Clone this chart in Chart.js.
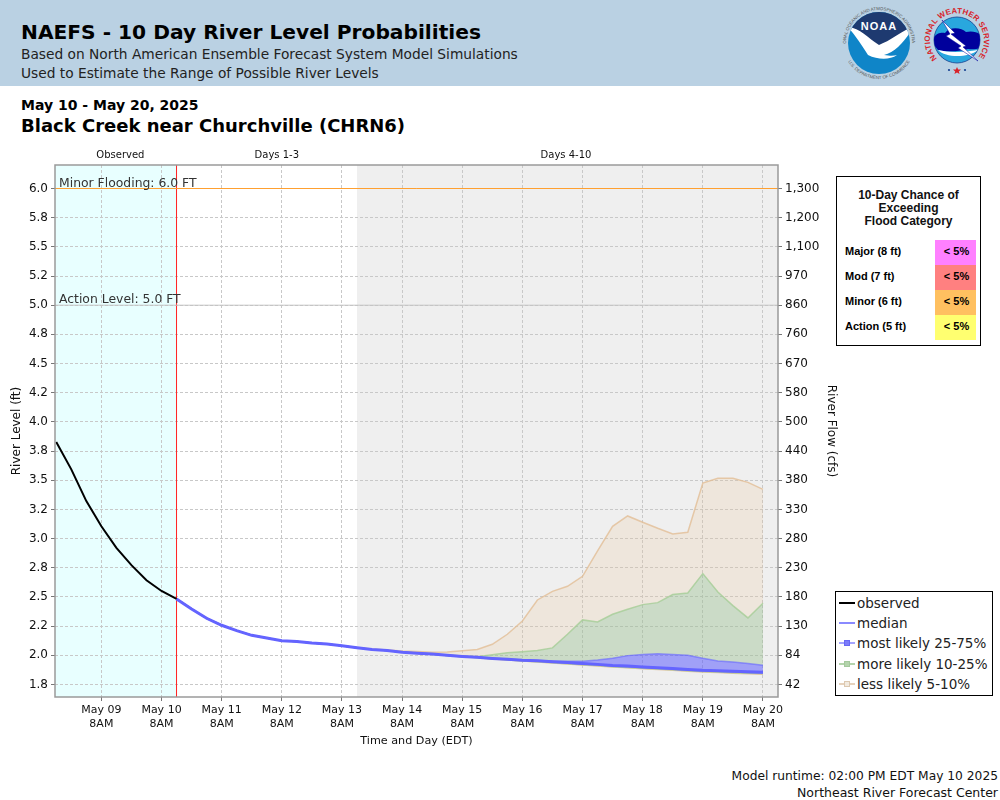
<!DOCTYPE html>
<html>
<head>
<meta charset="utf-8">
<title>NAEFS - 10 Day River Level Probabilities</title>
<script src="https://cdn.jsdelivr.net/npm/chart.js@4"></script>
<style>
  body { margin: 0; background: #fff; font-family: "DejaVu Sans", sans-serif; color: #000; overflow: hidden; }
  #page { position: relative; width: 1000px; height: 800px; }
  #banner { position: absolute; left: 0; top: 0; width: 1000px; height: 86px; background: #bad1e3; }
  .txt { position: absolute; white-space: nowrap; }
  #riverChart { position: absolute; left: 0; top: 0; }
  #logos { position: absolute; left: 835px; top: 0; }
  #floodBox { position: absolute; left: 836px; top: 176px; width: 143px; height: 168px; border: 1.5px solid #000; background: #fff; font-family: "Liberation Sans", sans-serif; font-weight: bold; }
  #floodTitle { position: absolute; left: 0; top: 12px; width: 143px; text-align: center; font-size: 12px; line-height: 13px; color: #111; }
  .floodLabel { position: absolute; left: 8px; font-size: 11px; line-height: 23px; }
  .floodCell { position: absolute; left: 98px; width: 39px; height: 25px; padding-left: 2px; font-size: 11px; line-height: 23px; text-align: center; }
  #legendBox { position: absolute; left: 835px; top: 591px; width: 156px; height: 103px; border: 1.5px solid #000; background: #fff; font-size: 13.5px; }
  .legendRow { position: absolute; left: 21px; line-height: 20px; white-space: nowrap; color: #222; }
  .legendLine { position: absolute; left: 3px; width: 16px; height: 2px; }
  .legendMark { position: absolute; left: 8px; width: 4px; height: 4px; border: 1px solid; }
</style>
</head>
<body>
<div id="page">
  <div id="banner"></div>
  <div class="txt" style="left:21px;top:20px;font-size:20.2px;font-weight:bold;">NAEFS - 10 Day River Level Probabilities</div>
  <div class="txt" style="left:21px;top:46px;font-size:13.75px;color:#222;">Based on North American Ensemble Forecast System Model Simulations</div>
  <div class="txt" style="left:21px;top:65px;font-size:13.75px;color:#222;">Used to Estimate the Range of Possible River Levels</div>
  <div class="txt" style="left:21px;top:97px;font-size:14px;font-weight:bold;">May 10 - May 20, 2025</div>
  <div class="txt" style="left:21px;top:115px;font-size:18px;font-weight:bold;">Black Creek near Churchville (CHRN6)</div>
  <div class="txt" style="right:2px;top:769px;font-size:12.25px;color:#111;">Model runtime: 02:00 PM EDT May 10 2025</div>
  <div class="txt" style="right:2px;top:785px;font-size:12.5px;color:#111;">Northeast River Forecast Center</div>

  <svg id="logos" width="165" height="86" viewBox="835 0 165 86">
    <defs>
      <path id="noaaRing" d="M 846 43 A 33 33 0 1 1 912 43"/>
      <path id="noaaRingLow" d="M 843 43 A 36 36 0 0 0 915 43"/>
      <path id="nwsRing" d="M 937 58.5 A 27 27 0 1 1 977 58.5"/>
      <clipPath id="noaaClip"><circle cx="879" cy="43" r="31"/></clipPath>
      <clipPath id="nwsClip"><circle cx="957" cy="40" r="23"/></clipPath>
    </defs>
    <circle cx="879" cy="43" r="31" fill="#0f85c8"/>
    <g clip-path="url(#noaaClip)">
      <path d="M 845 8 H 913 V 28 C 900 34 892 42 878 47 C 866 40 858 30 848 27 Z" fill="#1e3a70"/>
      <path d="M 848 27 C 860 28 868 38 879 45 C 892 40 900 32 914 26 C 906 40 896 52 884 55 C 890 56 894 56 897 55 C 890 60 878 60 868 55 C 862 46 856 36 848 27 Z" fill="#fff"/>
    </g>
    <text x="879" y="30" text-anchor="middle" font-family="Liberation Sans" font-weight="bold" font-size="11" fill="#fff" letter-spacing="1">NOAA</text>
    <text font-family="Liberation Sans" font-size="4.4" fill="#555"><textPath href="#noaaRing" startOffset="50%" text-anchor="middle">NATIONAL OCEANIC AND ATMOSPHERIC ADMINISTRATION</textPath></text>
    <text font-family="Liberation Sans" font-size="4.4" fill="#555"><textPath href="#noaaRingLow" startOffset="50%" text-anchor="middle">U.S. DEPARTMENT OF COMMERCE</textPath></text>

    <circle cx="957" cy="40" r="23" fill="#29a7de" stroke="#16408f" stroke-width="0.8"/>
    <g clip-path="url(#nwsClip)">
      <path d="M 933 44 C 932 34 940 32 945 33 C 950 26 962 28 966 32 C 975 30 984 34 984 42 C 984 48 976 50 968 49 C 958 52 944 52 938 50 Z" fill="#00009c"/>
      <path d="M 938 50 C 946 58 968 58 978 50 C 966 52 950 53 938 50 Z" fill="#fff"/>
    </g>
    <path d="M 942 20 L 955 33 L 951 34 L 966 46 L 963 47 L 978 61 L 958 48 L 961 46 L 946 36 L 950 34 Z" fill="#fff" stroke="#00009c" stroke-width="0.5"/>
    <text font-family="Liberation Sans" font-weight="bold" font-size="7.8" fill="#d8232a"><textPath href="#nwsRing" textLength="122" lengthAdjust="spacing">NATIONAL WEATHER SERVICE</textPath></text>
    <polygon points="957,67 958.2,69.6 961,69.6 958.8,71.4 959.6,74 957,72.4 954.4,74 955.2,71.4 953,69.6 955.8,69.6" fill="#d8232a"/>
    <circle cx="949" cy="70" r="1.1" fill="#16408f"/>
    <circle cx="965" cy="70" r="1.1" fill="#16408f"/>
  </svg>

  <canvas id="riverChart" width="1000" height="800"></canvas>

  <div id="floodBox">
    <div id="floodTitle">10-Day Chance of<br>Exceeding<br>Flood Category</div>
  </div>
  <div id="legendBox"></div>
</div>

<script>
// observed stage, 6 hourly, hours counted from May 09 8AM
const observedHours = [-18, -12, -6, 0, 6, 12, 18, 24, 30];
const observedLevel = [3.827, 3.593, 3.321, 3.106, 2.92, 2.772, 2.643, 2.551, 2.483];

// forecast, 6 hourly from May 10 2PM to May 20 8AM
const forecastHours = [30, 36, 42, 48, 54, 60, 66, 72, 78, 84, 90, 96, 102, 108, 114, 120, 126, 132, 138, 144,
  150, 156, 162, 168, 174, 180, 186, 192, 198, 204, 210, 216, 222, 228, 234, 240, 246, 252, 258, 264];
const medianLevel = [2.483, 2.397, 2.317, 2.257, 2.211, 2.171, 2.148, 2.125, 2.117, 2.105, 2.097, 2.082, 2.065, 2.05, 2.04, 2.025,
  2.018, 2.01, 2.0, 1.99, 1.982, 1.973, 1.965, 1.957, 1.952, 1.945, 1.938, 1.929, 1.922, 1.913, 1.907, 1.9,
  1.893, 1.886, 1.879, 1.871, 1.868, 1.863, 1.858, 1.855];
const upper75 = [2.483, 2.397, 2.317, 2.257, 2.211, 2.171, 2.148, 2.125, 2.117, 2.105, 2.097, 2.082, 2.065, 2.05, 2.04, 2.026,
  2.019, 2.011, 2.001, 1.991, 1.983, 1.975, 1.967, 1.96, 1.955, 1.95, 1.948, 1.949, 1.96, 1.974, 1.997, 2.006,
  2.014, 2.006, 2.0, 1.974, 1.951, 1.943, 1.929, 1.914];
const lower25 = [2.483, 2.397, 2.317, 2.257, 2.211, 2.171, 2.148, 2.125, 2.117, 2.105, 2.097, 2.082, 2.065, 2.05, 2.04, 2.025,
  2.017, 2.009, 1.999, 1.989, 1.981, 1.972, 1.964, 1.955, 1.95, 1.942, 1.934, 1.925, 1.918, 1.908, 1.902, 1.895,
  1.888, 1.881, 1.874, 1.866, 1.862, 1.857, 1.852, 1.849];
const upper90 = [2.483, 2.397, 2.317, 2.257, 2.211, 2.171, 2.148, 2.125, 2.117, 2.105, 2.097, 2.082, 2.065, 2.05, 2.04, 2.027,
  2.02, 2.012, 2.003, 1.994, 1.988, 2.004, 2.022, 2.03, 2.04, 2.063, 2.18, 2.303, 2.285, 2.351, 2.394, 2.434,
  2.451, 2.52, 2.534, 2.7, 2.542, 2.426, 2.32, 2.446];
const lower10 = [2.483, 2.397, 2.317, 2.257, 2.211, 2.171, 2.148, 2.125, 2.117, 2.105, 2.097, 2.082, 2.065, 2.05, 2.04, 2.025,
  2.017, 2.009, 1.998, 1.988, 1.98, 1.97, 1.961, 1.951, 1.945, 1.936, 1.928, 1.919, 1.912, 1.902, 1.895, 1.889,
  1.882, 1.875, 1.868, 1.861, 1.856, 1.85, 1.846, 1.843];
const upper95 = [2.483, 2.397, 2.317, 2.257, 2.211, 2.171, 2.148, 2.125, 2.117, 2.105, 2.097, 2.082, 2.065, 2.053, 2.046, 2.037,
  2.032, 2.025, 2.028, 2.038, 2.05, 2.094, 2.18, 2.294, 2.474, 2.548, 2.591, 2.677, 2.894, 3.105, 3.194, 3.14,
  3.088, 3.04, 3.054, 3.476, 3.517, 3.517, 3.482, 3.422];
const lower5 = [2.483, 2.397, 2.317, 2.257, 2.211, 2.171, 2.148, 2.125, 2.117, 2.105, 2.097, 2.082, 2.065, 2.05, 2.04, 2.025,
  2.017, 2.009, 1.998, 1.988, 1.979, 1.969, 1.96, 1.95, 1.943, 1.934, 1.925, 1.916, 1.909, 1.899, 1.892, 1.885,
  1.878, 1.871, 1.864, 1.857, 1.852, 1.846, 1.842, 1.838];

// axes
const hourMin = -18.5;
const hourMax = 270;
const levelMin = 1.6424;
const levelMax = 6.2014;
const dayTicks = [0, 24, 48, 72, 96, 120, 144, 168, 192, 216, 240, 264];
const dayLabels = ['May 09', 'May 10', 'May 11', 'May 12', 'May 13', 'May 14', 'May 15', 'May 16', 'May 17', 'May 18', 'May 19', 'May 20'];
const periodTicks = [7.6, 70, 185.4];
const periodLabels = ['Observed', 'Days 1-3', 'Days 4-10'];
const levelTicks = [6, 5.75, 5.5, 5.25, 5, 4.75, 4.5, 4.25, 4, 3.75, 3.5, 3.25, 3, 2.75, 2.5, 2.25, 2, 1.75];
const levelLabels = ['6.0', '5.8', '5.5', '5.2', '5.0', '4.8', '4.5', '4.2', '4.0', '3.8', '3.5', '3.2', '3.0', '2.8', '2.5', '2.2', '2.0', '1.8'];
const flowLabels = ['1,300', '1,200', '1,100', '970', '860', '760', '670', '580', '500', '440', '380', '330', '280', '230', '180', '130', '84', '42'];

// markers
const runtimeHour = 30;
const longRangeHour = 102;
const minorLevel = 6;
const actionLevel = 5;
const minorText = 'Minor Flooding: 6.0 FT';
const actionText = 'Action Level: 5.0 FT';

// side panels
const floodNames = ['Major (8 ft)', 'Mod (7 ft)', 'Minor (6 ft)', 'Action (5 ft)'];
const floodChance = ['< 5%', '< 5%', '< 5%', '< 5%'];
const floodColors = ['#ff80ff', '#ff8080', '#ffc060', '#ffff70'];
const legendNames = ['observed', 'median', 'most likely 25-75%', 'more likely 10-25%', 'less likely 5-10%'];

const fontName = '"DejaVu Sans", sans-serif';
const tanLine = 'rgba(226,190,150,0.8)';
const tanFill = 'rgba(235,194,143,0.2)';
const greenLine = 'rgba(165,205,150,0.8)';
const greenFill = 'rgba(150,190,140,0.4)';
const blueLine = 'rgba(100,100,255,0.6)';
const blueFill = 'rgba(82,82,255,0.5)';
const medianColor = '#6464ff';
const legendLines = ['#000', '#8a8aff', '#a4a4ff', '#b4d4ac', '#e6d2bc'];
const legendMarks = [null, null, '#7c7cfa', '#b4d4ac', '#f2eadf'];
const legendEdges = [null, null, '#6868f4', '#a4c89c', '#dcc8b0'];

function pts(xs, ys) {
    return xs.map((x, i) => ({ x: x, y: ys[i] }));
}

function band(values, lineColor, fillColor, target) {
    return {
        data: pts(forecastHours, values),
        borderColor: lineColor,
        borderWidth: 1.5,
        backgroundColor: fillColor,
        fill: target === null ? false : target,
        pointRadius: 0,
        tension: 0
    };
}

function rule(points, color, width) {
    return { data: points, borderColor: color, borderWidth: width, pointRadius: 0, fill: false };
}

// background zones, plot frame and the flood level captions
const zonesPlugin = {
    id: 'zones',
    beforeDraw(chart) {
        const { ctx, chartArea: a, scales } = chart;
        const runX = scales.x.getPixelForValue(runtimeHour);
        const longX = scales.x.getPixelForValue(longRangeHour);
        ctx.save();
        ctx.fillStyle = '#e8ffff';
        ctx.fillRect(a.left, a.top, runX - a.left, a.bottom - a.top);
        ctx.fillStyle = '#efefef';
        ctx.fillRect(longX, a.top, a.right - longX, a.bottom - a.top);
        ctx.restore();
    },
    afterDatasetsDraw(chart) {
        const { ctx, chartArea: a, scales } = chart;
        ctx.save();
        ctx.strokeStyle = '#9a9a9a';
        ctx.lineWidth = 1.5;
        ctx.strokeRect(a.left, a.top, a.right - a.left, a.bottom - a.top);
        ctx.font = '12.4px ' + fontName;
        ctx.fillStyle = '#333';
        ctx.textBaseline = 'alphabetic';
        ctx.fillText(minorText, a.left + 4, scales.y.getPixelForValue(minorLevel) - 2);
        ctx.fillText(actionText, a.left + 4, scales.y.getPixelForValue(actionLevel) - 2);
        ctx.restore();
    }
};

const gridStyle = { color: '#c8c8c8', lineWidth: 1, tickColor: '#777', tickLength: 4, tickBorderDash: [], tickWidth: 1 };
const axisBorder = { display: false, dash: [3, 2] };

new Chart(document.getElementById('riverChart').getContext('2d'), {
    type: 'line',
    data: {
        datasets: [
            rule(pts(observedHours, observedLevel), '#000', 2),                                   // 0
            rule(pts(forecastHours, medianLevel), medianColor, 3),                                // 1
            band(upper75, blueLine, blueFill, 3),                                                 // 2
            band(lower25, blueLine, blueFill, null),                                              // 3
            band(upper90, greenLine, greenFill, 2),                                               // 4
            band(lower10, greenLine, greenFill, 3),                                               // 5
            band(upper95, tanLine, tanFill, 4),                                                   // 6
            band(lower5, tanLine, tanFill, 5),                                                    // 7
            rule([{ x: hourMin, y: minorLevel }, { x: hourMax, y: minorLevel }], '#ffa030', 1),   // 8
            rule([{ x: hourMin, y: actionLevel }, { x: hourMax, y: actionLevel }], '#c4c4c4', 1), // 9
            rule([{ x: runtimeHour, y: levelMin }, { x: runtimeHour, y: levelMax }], '#ff2020', 1) // 10
        ]
    },
    options: {
        responsive: false,
        animation: false,
        devicePixelRatio: 1,
        layout: { padding: { left: 10, right: 162, top: 146, bottom: 52 } },
        plugins: { legend: { display: false }, tooltip: { enabled: false } },
        scales: {
            x: {
                type: 'linear',
                min: hourMin,
                max: hourMax,
                afterBuildTicks(axis) { axis.ticks = dayTicks.map(v => ({ value: v })); },
                afterFit(axis) { axis.height = 51; },
                border: axisBorder,
                grid: gridStyle,
                ticks: {
                    autoSkip: false, maxRotation: 0, padding: 3, color: '#111',
                    font: { family: fontName, size: 11 }, lineHeight: 1,
                    callback: (v, i) => [dayLabels[i], '8AM']
                },
                title: { display: true, text: 'Time and Day (EDT)', color: '#111', font: { family: fontName, size: 11.2 }, padding: { top: 6, bottom: 0 } }
            },
            top: {
                type: 'linear',
                position: 'top',
                min: hourMin,
                max: hourMax,
                afterBuildTicks(axis) { axis.ticks = periodTicks.map(v => ({ value: v })); },
                afterFit(axis) { axis.height = 19; },
                border: { display: false },
                grid: { display: false, drawTicks: false },
                ticks: {
                    autoSkip: false, maxRotation: 0, padding: 4, color: '#111',
                    font: { family: fontName, size: 10 },
                    callback: (v, i) => periodLabels[i]
                }
            },
            y: {
                type: 'linear',
                min: levelMin,
                max: levelMax,
                afterBuildTicks(axis) { axis.ticks = levelTicks.map(v => ({ value: v })); },
                afterFit(axis) { axis.width = 45; },
                border: axisBorder,
                grid: gridStyle,
                ticks: {
                    autoSkip: false, padding: 3, color: '#111',
                    font: { family: fontName, size: 12 },
                    callback: (v, i) => levelLabels[i]
                },
                title: { display: true, text: 'River Level (ft)', color: '#111', font: { family: fontName, size: 12 }, padding: 0 }
            },
            flow: {
                type: 'linear',
                position: 'right',
                min: levelMin,
                max: levelMax,
                afterBuildTicks(axis) { axis.ticks = levelTicks.map(v => ({ value: v })); },
                afterFit(axis) { axis.width = 60; },
                border: { display: false },
                grid: Object.assign({}, gridStyle, { drawOnChartArea: false }),
                ticks: {
                    autoSkip: false, padding: 3, color: '#111',
                    font: { family: fontName, size: 12 },
                    callback: (v, i) => flowLabels[i]
                },
                title: { display: true, text: 'River Flow (cfs)', color: '#111', font: { family: fontName, size: 12 }, padding: 0 }
            }
        }
    },
    plugins: [zonesPlugin]
});

// flood category table
const floodBox = document.getElementById('floodBox');
floodNames.forEach((name, i) => {
    const top = 63 + i * 25;
    floodBox.insertAdjacentHTML('beforeend',
        '<div class="floodLabel" style="top:' + top + 'px">' + name + '</div>' +
        '<div class="floodCell" style="top:' + top + 'px;background:' + floodColors[i] + '">' + floodChance[i].replace('<', '&lt;') + '</div>');
});

// legend box
const legendBox = document.getElementById('legendBox');
legendNames.forEach((name, i) => {
    const top = 1 + i * 20.2;
    let html = '<div class="legendLine" style="top:' + (top + 9) + 'px;background:' + legendLines[i] + '"></div>';
    if (legendMarks[i]) {
        html += '<div class="legendMark" style="top:' + (top + 7) + 'px;background:' + legendMarks[i] + ';border-color:' + legendEdges[i] + '"></div>';
    }
    html += '<div class="legendRow" style="top:' + top + 'px">' + name + '</div>';
    legendBox.insertAdjacentHTML('beforeend', html);
});
</script>
</body>
</html>
